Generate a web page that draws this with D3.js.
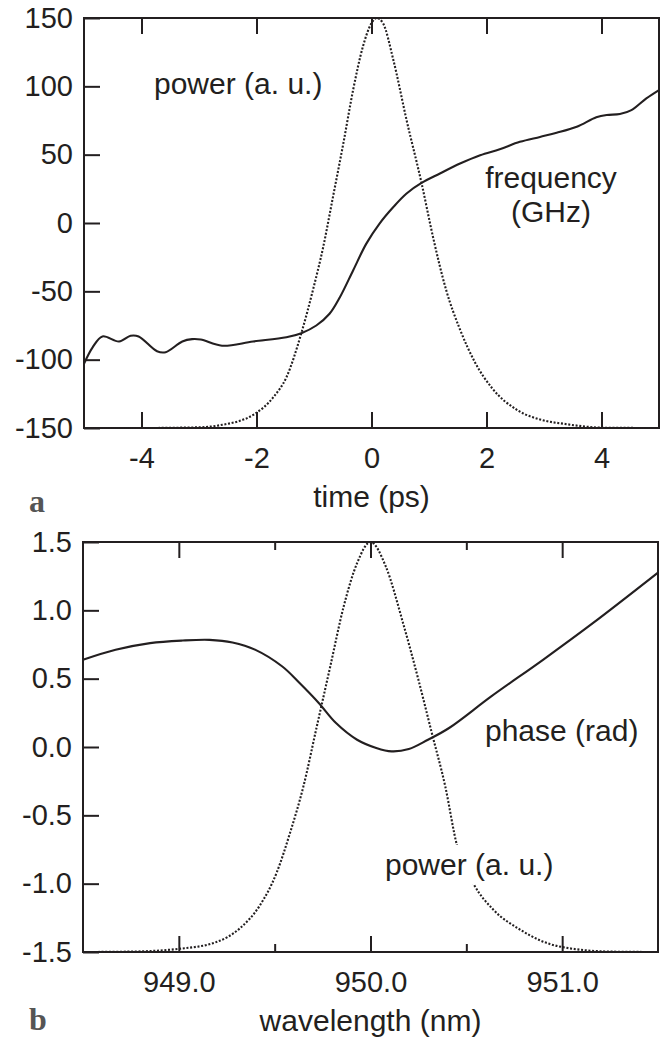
<!DOCTYPE html>
<html>
<head>
<meta charset="utf-8">
<script src="https://cdn.jsdelivr.net/npm/d3@7"></script>
<style>
  body { margin: 0; background: white; }
  svg { display: block; }
  .tick text { font-family: "Liberation Sans", Arial, Helvetica, sans-serif; font-size: 29px; fill: #231f20; }
  .lbl { font-family: "Liberation Sans", Arial, Helvetica, sans-serif; font-size: 30px; fill: #231f20; }
  .panel { font-family: "Liberation Serif", "Times New Roman", serif; font-weight: bold; font-size: 32px; fill: #555; }
</style>
</head>
<body>
<div id="chart"></div>
<script>
// panel a: pulse in time
const freqTime = [-5, -4.85, -4.68, -4.39, -4.19, -4.05, -3.73, -3.58, -3.29, -3.12, -2.97, -2.6, -2.06, -1.48, -1.22, -0.96, -0.73, -0.55, -0.32, -0.09, 0.14, 0.38, 0.61, 0.87, 1.19, 1.54, 1.89, 2.23, 2.58, 2.93, 3.22, 3.57, 3.91, 4.09, 4.32, 4.52, 4.78, 5];
const freqGHz = [-103, -91, -83, -86.7, -82.5, -83, -93.8, -94.5, -86.7, -85, -85.3, -89.8, -86.7, -83.6, -80.6, -75, -66.4, -54.3, -34.7, -15.1, -0.4, 11.7, 21.6, 29.3, 36.2, 43.5, 49.6, 54, 59.4, 63, 66, 70.4, 77.3, 79, 79.7, 82.6, 91.2, 97.3];
const powTime = [-5, -4.06, -3.0, -2.64, -2.03, -1.71, -1.48, -1.22, -1.02, -0.84, -0.67, -0.49, -0.32, -0.15, 0, 0.09, 0.2, 0.38, 0.61, 0.87, 1.07, 1.3, 1.54, 1.8, 2.1, 2.54, 3.0, 3.36, 4.04, 5];
const powTimeVal = [-150, -150, -149.5, -148, -139.7, -127.6, -112.9, -80.6, -49.3, -17.6, 19.1, 58.2, 97.3, 129, 146.2, 150, 146.2, 119.3, 75.3, 29.3, -10.3, -49.3, -78, -102, -121, -137, -144.5, -147, -149.8, -150];
const timeTicks = [-4, -2, 0, 2, 4];
const freqTicks = [-150, -100, -50, 0, 50, 100, 150];

// panel b: spectrum
const phaseWl = [948.5, 948.67, 948.85, 949.02, 949.16, 949.28, 949.40, 949.54, 949.63, 949.73, 949.82, 949.93, 950.03, 950.11, 950.20, 950.30, 950.41, 950.63, 950.90, 951.16, 951.5];
const phaseRad = [0.638, 0.711, 0.760, 0.779, 0.784, 0.765, 0.711, 0.589, 0.468, 0.322, 0.175, 0.053, -0.007, -0.032, -0.015, 0.053, 0.139, 0.370, 0.638, 0.906, 1.276];
const powWl = [948.5, 948.75, 949.0, 949.19, 949.32, 949.42, 949.51, 949.58, 949.65, 949.72, 949.79, 949.86, 949.93, 950.0, 950.08, 950.17, 950.25, 950.32, 950.39, 950.45, 950.54, 950.64, 950.78, 950.98, 951.25, 951.5];
const powWlVal = [-1.5, -1.497, -1.477, -1.43, -1.325, -1.165, -0.921, -0.629, -0.288, 0.151, 0.589, 1.028, 1.345, 1.5, 1.32, 0.906, 0.492, 0.102, -0.288, -0.714, -1.007, -1.189, -1.336, -1.458, -1.497, -1.5];
const wlTicks = [949, 950, 951];
const wlMinor = [949.5, 950.5];
const phaseTicks = [-1.5, -1.0, -0.5, 0.0, 0.5, 1.0, 1.5];

const W = 666, H = 1042;
const ink = "#231f20";

let svg = d3.select("#chart").append("svg")
  .attr("width", W)
  .attr("height", H)
  .style("background", "white");

function drawPanel(o) {
  let x = d3.scaleLinear().domain(o.xdom).range([o.left, o.right]);
  let y = d3.scaleLinear().domain(o.ydom).range([o.bottom, o.top]);
  let g = svg.append("g");

  // bottom axis with labels
  g.append("g")
    .attr("transform", `translate(0,${o.bottom})`)
    .call(d3.axisBottom(x).tickValues(o.xticks).tickSize(-16).tickPadding(19).tickFormat(o.xfmt));
  // top axis, ticks only
  g.append("g")
    .attr("transform", `translate(0,${o.top})`)
    .call(d3.axisTop(x).tickValues(o.xticks).tickSize(-16).tickFormat(""));
  if (o.xminor) {
    g.append("g")
      .attr("transform", `translate(0,${o.bottom})`)
      .call(d3.axisBottom(x).tickValues(o.xminor).tickSize(-8).tickFormat(""));
    g.append("g")
      .attr("transform", `translate(0,${o.top})`)
      .call(d3.axisTop(x).tickValues(o.xminor).tickSize(-8).tickFormat(""));
  }
  // left axis
  g.append("g")
    .attr("transform", `translate(${o.left},0)`)
    .call(d3.axisLeft(y).tickValues(o.yticks).tickSize(-16).tickPadding(11).tickFormat(o.yfmt));

  g.selectAll(".domain").remove();
  g.selectAll(".tick line").attr("stroke", ink).attr("stroke-width", 2);

  // frame
  g.append("rect")
    .attr("x", o.left).attr("y", o.top)
    .attr("width", o.right - o.left).attr("height", o.bottom - o.top)
    .attr("fill", "none").attr("stroke", ink).attr("stroke-width", 2);

  let smooth = d3.line()
    .x(d => x(d[0]))
    .y(d => y(d[1]))
    .curve(d3.curveCatmullRom.alpha(0.5));
  let mono = d3.line()
    .x(d => x(d[0]))
    .y(d => y(d[1]))
    .curve(d3.curveMonotoneX);

  // dotted power
  g.append("path")
    .datum(d3.zip(o.dotX, o.dotY))
    .attr("d", mono)
    .attr("fill", "none")
    .attr("stroke", ink)
    .attr("stroke-width", 2.1)
    .attr("stroke-dasharray", "2,1.7");

  // solid curve
  g.append("path")
    .datum(d3.zip(o.solX, o.solY))
    .attr("d", smooth)
    .attr("fill", "none")
    .attr("stroke", ink)
    .attr("stroke-width", 2.1);

  // axis title
  g.append("text")
    .attr("class", "lbl")
    .attr("x", (o.left + o.right) / 2)
    .attr("y", o.bottom + 79)
    .attr("text-anchor", "middle")
    .text(o.title);

  // panel letter
  g.append("text")
    .attr("class", "panel")
    .attr("x", 29)
    .attr("y", o.letterY)
    .text(o.letter);

  return g;
}

let ga = drawPanel({
  left: 84, right: 659, top: 18, bottom: 428,
  xdom: [-5, 5], ydom: [-150, 150],
  xticks: timeTicks, yticks: freqTicks,
  xfmt: d => String(d), yfmt: d => String(d),
  dotX: powTime, dotY: powTimeVal,
  solX: freqTime, solY: freqGHz,
  title: "time (ps)", letter: "a", letterY: 512
});

ga.append("text").attr("class", "lbl").attr("x", 154).attr("y", 94).text("power (a. u.)");
ga.append("text").attr("class", "lbl").attr("x", 551).attr("y", 188).attr("text-anchor", "middle").text("frequency");
ga.append("text").attr("class", "lbl").attr("x", 551).attr("y", 222).attr("text-anchor", "middle").text("(GHz)");

let gb = drawPanel({
  left: 83, right: 658, top: 542, bottom: 952,
  xdom: [948.5, 951.5], ydom: [-1.5, 1.5],
  xticks: wlTicks, xminor: wlMinor, yticks: phaseTicks,
  xfmt: d => d.toFixed(1), yfmt: d => d.toFixed(1),
  dotX: powWl, dotY: powWlVal,
  solX: phaseWl, solY: phaseRad,
  title: "wavelength (nm)", letter: "b", letterY: 1030
});

gb.append("text").attr("class", "lbl").attr("x", 485).attr("y", 741).text("phase (rad)");

// label sits over the dotted curve, with a white patch behind it
let pw = gb.append("text").attr("class", "lbl").attr("x", 385).attr("y", 875).text("power (a. u.)");
let bb = pw.node().getBBox();
gb.insert("rect", function() { return pw.node(); })
  .attr("x", bb.x - 2).attr("y", bb.y - 3)
  .attr("width", bb.width + 4).attr("height", bb.height + 6)
  .attr("fill", "white");
</script>
</body>
</html>
